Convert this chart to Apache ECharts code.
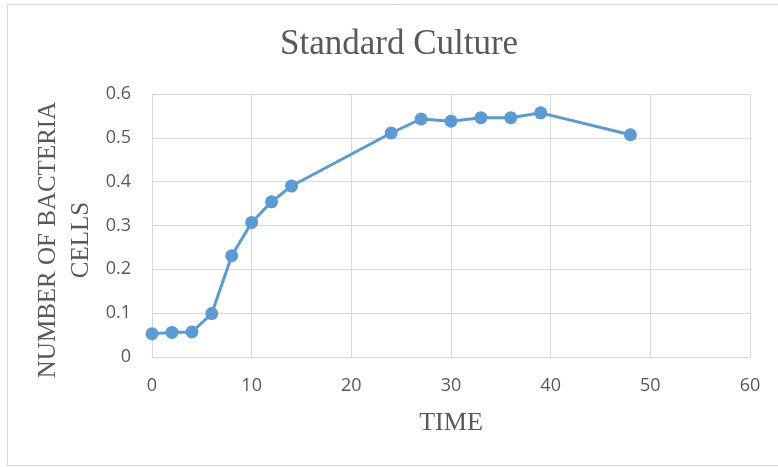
<!DOCTYPE html>
<html>
<head>
<meta charset="utf-8">
<script src="https://cdn.jsdelivr.net/npm/echarts@6/dist/echarts.min.js"></script>
<style>
  html, body { margin: 0; padding: 0; background: #fff; }
  #chart { width: 778px; height: 467px; }
</style>
</head>
<body>
<div id="chart"></div>
<script>
// Growth of the standard culture over time
const times = [0, 2, 4, 6, 8, 10, 12, 14, 24, 27, 30, 33, 36, 39, 48];
const cellCounts = [0.053, 0.056, 0.057, 0.099, 0.231, 0.307, 0.354, 0.390, 0.511, 0.543, 0.538, 0.546, 0.546, 0.557, 0.507];

const xTicks = { min: 0, max: 60, interval: 10 };
const yTicks = { min: 0, max: 0.6, interval: 0.1 };

const chart = echarts.init(document.getElementById('chart'), null, { renderer: 'canvas' });

const textGrey = '#595959';
const serif = '"Liberation Serif", "DejaVu Serif", serif';
const sans = '"Open Sans", "Liberation Sans", sans-serif';

chart.setOption({
  backgroundColor: '#ffffff',
  animation: false,
  graphic: [
    {
      type: 'rect',
      shape: { x: 7.5, y: 4.5, width: 780, height: 461 },
      style: { fill: 'none', stroke: '#d9d9d9', lineWidth: 1 },
      silent: true
    },
    {
      // vertical axis title, two lines
      type: 'text',
      x: 65,
      y: 240,
      rotation: Math.PI / 2,
      style: {
        text: 'NUMBER OF BACTERIA\nCELLS',
        fill: textGrey,
        font: '25px ' + serif,
        lineHeight: 33,
        align: 'center',
        verticalAlign: 'middle'
      },
      silent: true
    }
  ],
  title: {
    text: 'Standard Culture',
    left: 275,
    top: 22,
    textStyle: { fontFamily: serif, fontSize: 35, fontWeight: 'normal', color: textGrey }
  },
  grid: { left: 152, right: 28, top: 94, bottom: 110 },
  xAxis: {
    type: 'value',
    min: xTicks.min, max: xTicks.max, interval: xTicks.interval,
    name: 'TIME',
    nameLocation: 'middle',
    nameGap: 53,
    nameTextStyle: { fontFamily: serif, fontSize: 26, color: textGrey },
    axisLine: { show: true, lineStyle: { color: '#d9d9d9', width: 1 } },
    axisTick: { show: false },
    axisLabel: { fontFamily: sans, fontSize: 18, color: textGrey, margin: 20 },
    splitLine: { show: true, lineStyle: { color: '#d9d9d9', width: 1 } }
  },
  yAxis: {
    type: 'value',
    min: yTicks.min, max: yTicks.max, interval: yTicks.interval,
    axisLine: { show: false },
    axisTick: { show: false },
    axisLabel: {
      fontFamily: sans, fontSize: 18, color: textGrey, margin: 21,
      formatter: v => String(Math.round(v * 10) / 10)
    },
    splitLine: { show: true, lineStyle: { color: '#d9d9d9', width: 1 } }
  },
  series: [{
    type: 'line',
    data: times.map((t, i) => [t, cellCounts[i]]),
    symbol: 'circle',
    symbolSize: 13,
    showAllSymbol: true,
    lineStyle: { color: '#5b9bd5', width: 3 },
    itemStyle: { color: '#5b9bd5' }
  }]
});
</script>
</body>
</html>
